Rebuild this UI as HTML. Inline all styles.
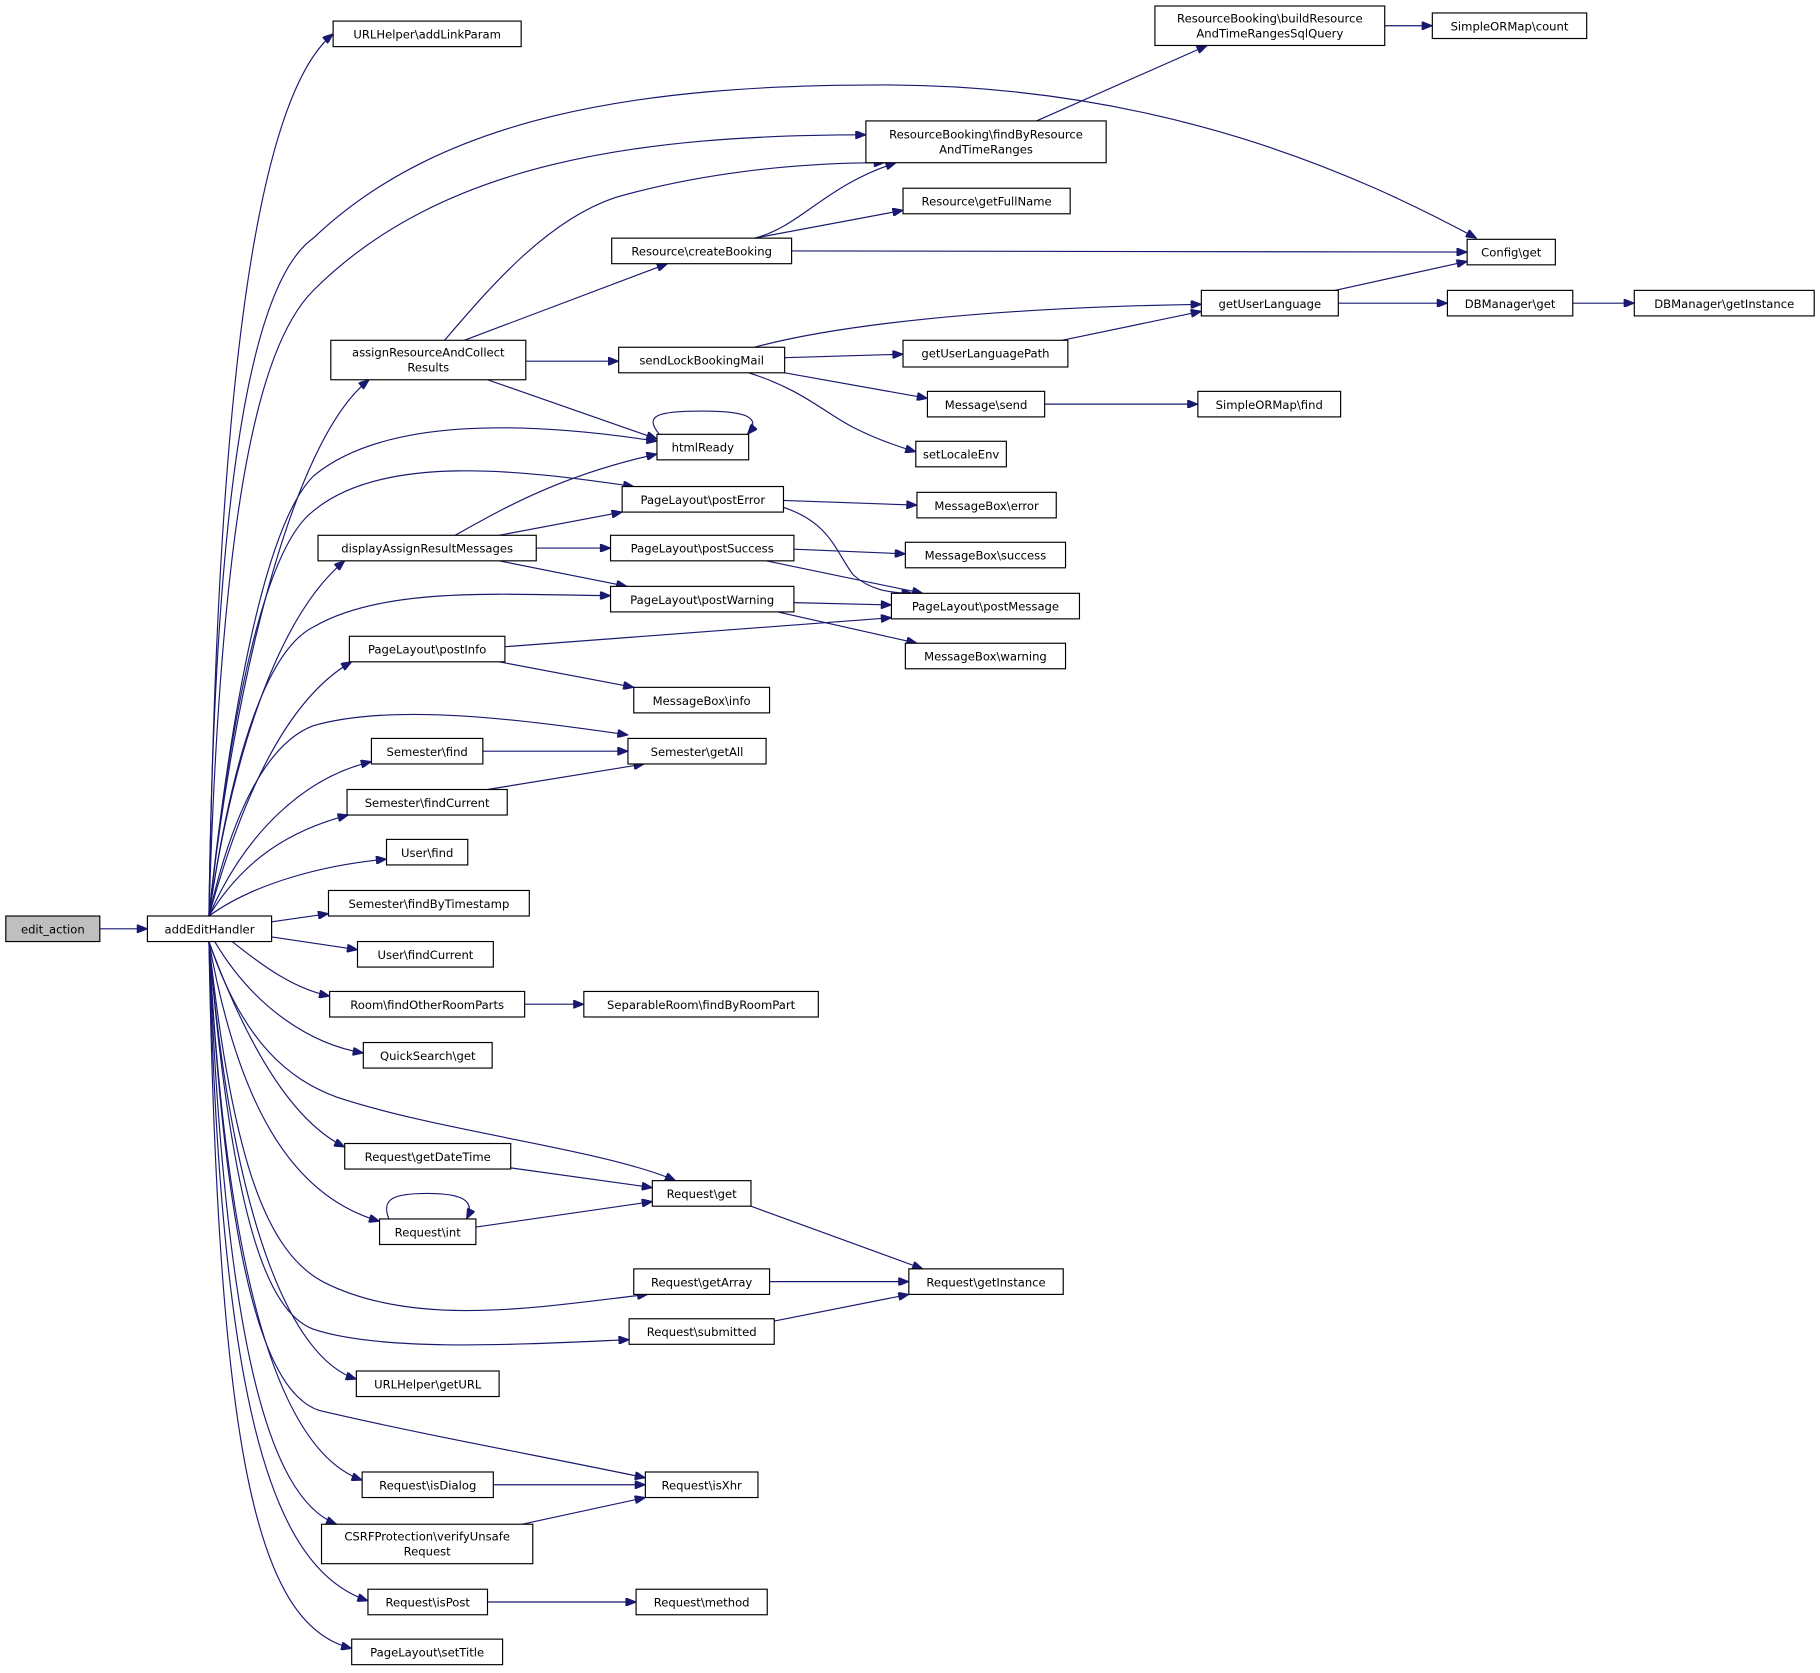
<!DOCTYPE html>
<html><head><meta charset="utf-8"><style>
html,body{margin:0;padding:0;background:#fff;}
svg{display:block;}
text{font-family:"DejaVu Sans","Liberation Sans",sans-serif;font-size:10px;fill:#000;}
.n{fill:#fff;stroke:#000;stroke-width:1;}
.e{fill:none;stroke:#191970;stroke-width:1;}
</style></head><body>
<svg width="1820" height="1673" viewBox="0 0 1568 1441" xmlns="http://www.w3.org/2000/svg">
<defs>
<marker id="a" viewBox="0 0 10 8" refX="10" refY="4" markerWidth="10" markerHeight="7" markerUnits="userSpaceOnUse" orient="auto">
<path d="M0,0 L10,4 L0,8 z" fill="#191970" stroke="#191970"/>
</marker>
</defs>
<g class="edges" marker-end="url(#a)">
<path class="e" marker-end="url(#a)" d="M86,800 L127,800"/>
<path class="e" marker-end="url(#a)" d="M180,789 C185,500 200,100 287,29"/>
<path class="e" marker-end="url(#a)" d="M180,789 C185,400 220,240 270,205 C380,100 550,73 760,73 C1000,73 1170,150 1272,205"/>
<path class="e" marker-end="url(#a)" d="M180,789 C190,450 220,300 270,250 C380,140 550,116 746,116"/>
<path class="e" marker-end="url(#a)" d="M180,789 C200,600 250,380 318,327"/>
<path class="e" marker-end="url(#a)" d="M180,789 C200,600 230,450 270,410 C330,360 450,362 566,380"/>
<path class="e" marker-end="url(#a)" d="M180,789 C200,600 230,470 270,440 C330,390 450,405 546,419"/>
<path class="e" marker-end="url(#a)" d="M180,789 C200,650 240,530 297,483"/>
<path class="e" marker-end="url(#a)" d="M180,789 C200,650 230,560 270,540 C330,505 430,512 526,513"/>
<path class="e" marker-end="url(#a)" d="M180,789 C210,680 250,600 303,570"/>
<path class="e" marker-end="url(#a)" d="M180,789 C200,700 230,640 270,625 C340,605 450,620 541,633"/>
<path class="e" marker-end="url(#a)" d="M180,789 C210,720 260,670 320,656"/>
<path class="e" marker-end="url(#a)" d="M180,789 C210,740 250,715 300,702"/>
<path class="e" marker-end="url(#a)" d="M180,789 C220,760 280,745 333,740"/>
<path class="e" marker-end="url(#a)" d="M234,794 L283,787"/>
<path class="e" marker-end="url(#a)" d="M234,807 L308,818"/>
<path class="e" marker-end="url(#a)" d="M200,811 C230,835 255,852 284,858"/>
<path class="e" marker-end="url(#a)" d="M185,811 C220,870 270,900 313,907"/>
<path class="e" marker-end="url(#a)" d="M180,811 C210,900 250,930 290,945 C380,975 520,990 582,1017"/>
<path class="e" marker-end="url(#a)" d="M180,811 C220,920 260,970 297,988"/>
<path class="e" marker-end="url(#a)" d="M180,811 C205,950 250,1030 327,1052"/>
<path class="e" marker-end="url(#a)" d="M180,811 C200,1000 230,1080 280,1105 C360,1145 470,1125 558,1115"/>
<path class="e" marker-end="url(#a)" d="M180,811 C200,1050 230,1130 270,1145 C330,1165 450,1158 542,1154"/>
<path class="e" marker-end="url(#a)" d="M180,811 C200,1050 250,1170 307,1188"/>
<path class="e" marker-end="url(#a)" d="M180,811 C195,1100 230,1200 275,1215 C360,1235 470,1255 556,1273"/>
<path class="e" marker-end="url(#a)" d="M180,811 C195,1100 240,1250 312,1275"/>
<path class="e" marker-end="url(#a)" d="M180,811 C193,1150 230,1290 290,1313"/>
<path class="e" marker-end="url(#a)" d="M180,811 C190,1200 230,1350 317,1379"/>
<path class="e" marker-end="url(#a)" d="M180,811 C188,1250 220,1400 303,1420"/>
<path class="e" marker-end="url(#a)" d="M1193,22 L1234,22"/>
<path class="e" marker-end="url(#a)" d="M893,104 L1040,39"/>
<path class="e" marker-end="url(#a)" d="M650,205 C690,195 710,160 772,140"/>
<path class="e" marker-end="url(#a)" d="M650,205 L778,181"/>
<path class="e" marker-end="url(#a)" d="M682,216 L1264,217"/>
<path class="e" marker-end="url(#a)" d="M383,293 C420,250 470,190 530,170 C600,150 680,140 762,140"/>
<path class="e" marker-end="url(#a)" d="M400,293 L575,227"/>
<path class="e" marker-end="url(#a)" d="M453,311 L533,311"/>
<path class="e" marker-end="url(#a)" d="M420,327 L566,378"/>
<path class="e" marker-end="url(#a)" d="M650,299 C720,280 850,265 1035,262"/>
<path class="e" marker-end="url(#a)" d="M676,308 L778,305"/>
<path class="e" marker-end="url(#a)" d="M676,321 L799,343"/>
<path class="e" marker-end="url(#a)" d="M645,321 C690,335 710,355 735,368 C755,378 775,385 789,389"/>
<path class="e" marker-end="url(#a)" d="M1150,250 L1264,225"/>
<path class="e" marker-end="url(#a)" d="M1153,261 L1247,261"/>
<path class="e" marker-end="url(#a)" d="M1355,261 L1408,261"/>
<path class="e" marker-end="url(#a)" d="M915,293 L1035,268"/>
<path class="e" marker-end="url(#a)" d="M900,348 L1032,348"/>
<path class="e" marker-end="url(#a)" d="M568,374 C555,358 565,354 605,354 C645,354 656,360 644,374"/>
<path class="e" marker-end="url(#a)" d="M392,461 C430,440 480,410 566,391"/>
<path class="e" marker-end="url(#a)" d="M430,461 L536,441"/>
<path class="e" marker-end="url(#a)" d="M462,472 L526,472"/>
<path class="e" marker-end="url(#a)" d="M430,483 L540,505"/>
<path class="e" marker-end="url(#a)" d="M675,431 L790,435"/>
<path class="e" marker-end="url(#a)" d="M675,437 C715,450 720,475 735,495 C748,507 765,511 786,511"/>
<path class="e" marker-end="url(#a)" d="M684,473 L780,477"/>
<path class="e" marker-end="url(#a)" d="M660,483 L795,511"/>
<path class="e" marker-end="url(#a)" d="M684,519 L768,521"/>
<path class="e" marker-end="url(#a)" d="M670,527 L790,554"/>
<path class="e" marker-end="url(#a)" d="M435,557 L768,532"/>
<path class="e" marker-end="url(#a)" d="M430,570 L546,592"/>
<path class="e" marker-end="url(#a)" d="M416,647 L541,647"/>
<path class="e" marker-end="url(#a)" d="M420,680 L555,658"/>
<path class="e" marker-end="url(#a)" d="M452,865 L503,865"/>
<path class="e" marker-end="url(#a)" d="M440,1006 L562,1023"/>
<path class="e" marker-end="url(#a)" d="M410,1057 L562,1035"/>
<path class="e" marker-end="url(#a)" d="M335,1050 C328,1032 340,1028 368,1028 C398,1028 410,1034 402,1050"/>
<path class="e" marker-end="url(#a)" d="M647,1039 L795,1093"/>
<path class="e" marker-end="url(#a)" d="M663,1104 L783,1104"/>
<path class="e" marker-end="url(#a)" d="M667,1138 L783,1115"/>
<path class="e" marker-end="url(#a)" d="M425,1279 L556,1279"/>
<path class="e" marker-end="url(#a)" d="M450,1313 L556,1290"/>
<path class="e" marker-end="url(#a)" d="M420,1380 L548,1380"/>
</g>
<g>
<rect x="5" y="789" width="81" height="22" fill="#bfbfbf" stroke="#000"/><text x="45.5" y="804" text-anchor="middle">edit_action</text>
<rect class="n" x="127" y="789" width="107" height="22"/><text x="180.5" y="804" text-anchor="middle">addEditHandler</text>
<rect class="n" x="287" y="18" width="162" height="22"/><text x="368" y="33" text-anchor="middle">URLHelper\addLinkParam</text>
<rect class="n" x="995" y="5" width="198" height="34"/><text x="1094" y="19" text-anchor="middle">ResourceBooking\buildResource</text><text x="1094" y="32" text-anchor="middle">AndTimeRangesSqlQuery</text>
<rect class="n" x="1234" y="11" width="133" height="22"/><text x="1300.5" y="26" text-anchor="middle">SimpleORMap\count</text>
<rect class="n" x="746" y="104" width="207" height="36"/><text x="849.5" y="119" text-anchor="middle">ResourceBooking\findByResource</text><text x="849.5" y="132" text-anchor="middle">AndTimeRanges</text>
<rect class="n" x="1264" y="206" width="76" height="22"/><text x="1302" y="221" text-anchor="middle">Config\get</text>
<rect class="n" x="778" y="162" width="144" height="22"/><text x="850" y="177" text-anchor="middle">Resource\getFullName</text>
<rect class="n" x="527" y="205" width="155" height="22"/><text x="604.5" y="220" text-anchor="middle">Resource\createBooking</text>
<rect class="n" x="1035" y="250" width="118" height="22"/><text x="1094" y="265" text-anchor="middle">getUserLanguage</text>
<rect class="n" x="1247" y="250" width="108" height="22"/><text x="1301" y="265" text-anchor="middle">DBManager\get</text>
<rect class="n" x="1408" y="250" width="155" height="22"/><text x="1485.5" y="265" text-anchor="middle">DBManager\getInstance</text>
<rect class="n" x="285" y="293" width="168" height="34"/><text x="369" y="307" text-anchor="middle">assignResourceAndCollect</text><text x="369" y="320" text-anchor="middle">Results</text>
<rect class="n" x="533" y="299" width="143" height="22"/><text x="604.5" y="314" text-anchor="middle">sendLockBookingMail</text>
<rect class="n" x="778" y="293" width="142" height="23"/><text x="849" y="308" text-anchor="middle">getUserLanguagePath</text>
<rect class="n" x="799" y="337" width="101" height="22"/><text x="849.5" y="352" text-anchor="middle">Message\send</text>
<rect class="n" x="1032" y="337" width="123" height="22"/><text x="1093.5" y="352" text-anchor="middle">SimpleORMap\find</text>
<rect class="n" x="566" y="374" width="79" height="22"/><text x="605.5" y="389" text-anchor="middle">htmlReady</text>
<rect class="n" x="789" y="380" width="78" height="22"/><text x="828" y="395" text-anchor="middle">setLocaleEnv</text>
<rect class="n" x="536" y="419" width="139" height="22"/><text x="605.5" y="434" text-anchor="middle">PageLayout\postError</text>
<rect class="n" x="790" y="424" width="120" height="22"/><text x="850" y="439" text-anchor="middle">MessageBox\error</text>
<rect class="n" x="274" y="461" width="188" height="22"/><text x="368" y="476" text-anchor="middle">displayAssignResultMessages</text>
<rect class="n" x="526" y="461" width="158" height="22"/><text x="605" y="476" text-anchor="middle">PageLayout\postSuccess</text>
<rect class="n" x="780" y="467" width="138" height="22"/><text x="849" y="482" text-anchor="middle">MessageBox\success</text>
<rect class="n" x="526" y="505" width="158" height="22"/><text x="605" y="520" text-anchor="middle">PageLayout\postWarning</text>
<rect class="n" x="768" y="511" width="162" height="22"/><text x="849" y="526" text-anchor="middle">PageLayout\postMessage</text>
<rect class="n" x="301" y="548" width="134" height="22"/><text x="368" y="563" text-anchor="middle">PageLayout\postInfo</text>
<rect class="n" x="780" y="554" width="138" height="22"/><text x="849" y="569" text-anchor="middle">MessageBox\warning</text>
<rect class="n" x="546" y="592" width="117" height="22"/><text x="604.5" y="607" text-anchor="middle">MessageBox\info</text>
<rect class="n" x="541" y="636" width="119" height="22"/><text x="600.5" y="651" text-anchor="middle">Semester\getAll</text>
<rect class="n" x="320" y="636" width="96" height="22"/><text x="368" y="651" text-anchor="middle">Semester\find</text>
<rect class="n" x="299" y="680" width="138" height="22"/><text x="368" y="695" text-anchor="middle">Semester\findCurrent</text>
<rect class="n" x="333" y="723" width="70" height="22"/><text x="368" y="738" text-anchor="middle">User\find</text>
<rect class="n" x="283" y="767" width="173" height="22"/><text x="369.5" y="782" text-anchor="middle">Semester\findByTimestamp</text>
<rect class="n" x="308" y="811" width="117" height="22"/><text x="366.5" y="826" text-anchor="middle">User\findCurrent</text>
<rect class="n" x="284" y="854" width="168" height="22"/><text x="368" y="869" text-anchor="middle">Room\findOtherRoomParts</text>
<rect class="n" x="503" y="854" width="202" height="22"/><text x="604" y="869" text-anchor="middle">SeparableRoom\findByRoomPart</text>
<rect class="n" x="313" y="898" width="111" height="22"/><text x="368.5" y="913" text-anchor="middle">QuickSearch\get</text>
<rect class="n" x="297" y="985" width="143" height="22"/><text x="368.5" y="1000" text-anchor="middle">Request\getDateTime</text>
<rect class="n" x="562" y="1017" width="85" height="22"/><text x="604.5" y="1032" text-anchor="middle">Request\get</text>
<rect class="n" x="327" y="1050" width="83" height="22"/><text x="368.5" y="1065" text-anchor="middle">Request\int</text>
<rect class="n" x="546" y="1093" width="117" height="22"/><text x="604.5" y="1108" text-anchor="middle">Request\getArray</text>
<rect class="n" x="783" y="1093" width="133" height="22"/><text x="849.5" y="1108" text-anchor="middle">Request\getInstance</text>
<rect class="n" x="542" y="1136" width="125" height="22"/><text x="604.5" y="1151" text-anchor="middle">Request\submitted</text>
<rect class="n" x="307" y="1181" width="123" height="22"/><text x="368.5" y="1196" text-anchor="middle">URLHelper\getURL</text>
<rect class="n" x="312" y="1268" width="113" height="22"/><text x="368.5" y="1283" text-anchor="middle">Request\isDialog</text>
<rect class="n" x="556" y="1268" width="97" height="22"/><text x="604.5" y="1283" text-anchor="middle">Request\isXhr</text>
<rect class="n" x="277" y="1313" width="182" height="34"/><text x="368" y="1327" text-anchor="middle">CSRFProtection\verifyUnsafe</text><text x="368" y="1340" text-anchor="middle">Request</text>
<rect class="n" x="317" y="1369" width="103" height="22"/><text x="368.5" y="1384" text-anchor="middle">Request\isPost</text>
<rect class="n" x="548" y="1369" width="113" height="22"/><text x="604.5" y="1384" text-anchor="middle">Request\method</text>
<rect class="n" x="303" y="1412" width="130" height="22"/><text x="368" y="1427" text-anchor="middle">PageLayout\setTitle</text>
</g>
</svg>
</body></html>
